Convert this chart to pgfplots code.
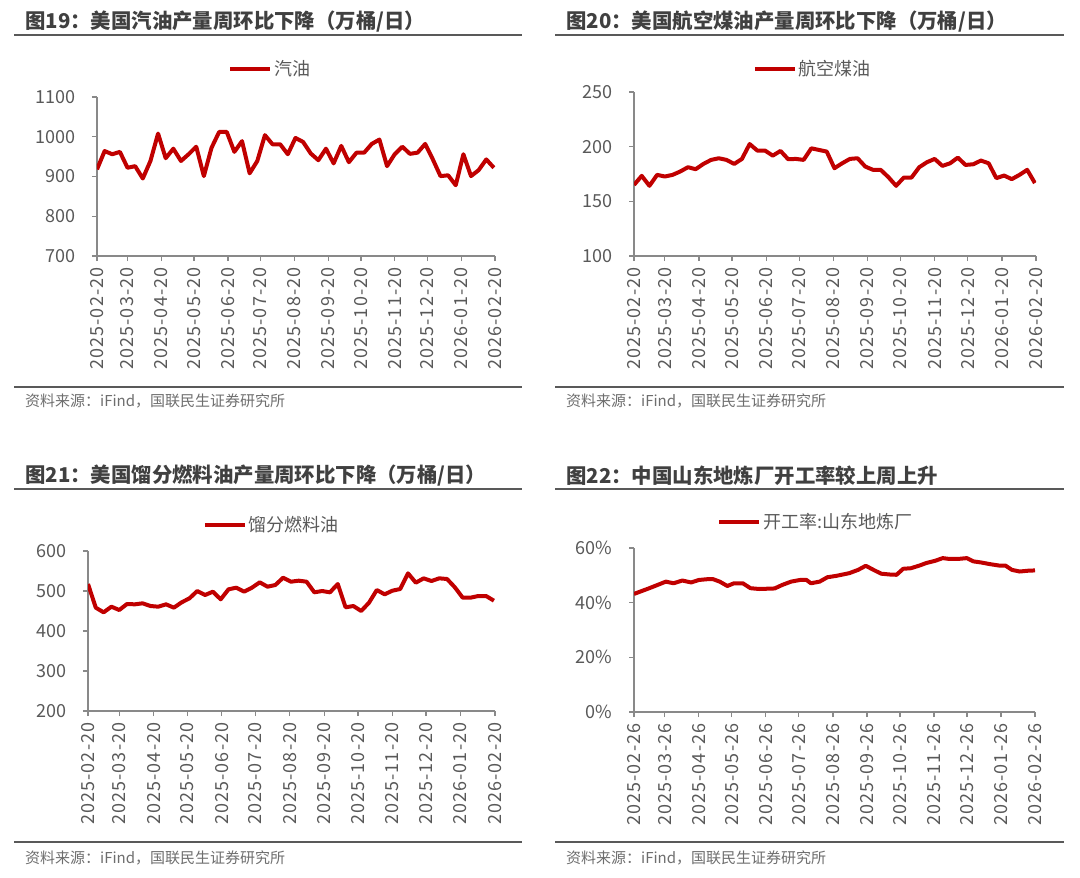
\documentclass[border=0pt]{standalone}
\usepackage{pgfplots}
\pgfplotsset{compat=1.18}
\usepackage{fontspec}
\setmainfont{Noto Sans CJK SC}
\newfontfamily\tickfont[LetterSpace=6]{Noto Sans CJK SC}
\definecolor{myred}{HTML}{C00000}
\definecolor{tit}{HTML}{404040}
\definecolor{tk}{HTML}{595959}
\definecolor{axl}{HTML}{898989}
\definecolor{rule}{HTML}{595959}
\definecolor{src}{HTML}{6E6E6E}

\pgfplotsset{
 legend image code/.code={\draw[#1,line width=4pt] (0pt,0pt) -- (40pt,0pt);},
 panel/.style={
  scale only axis,
  anchor=south west,
  axis lines=left,
  axis line style={-, draw=axl, line width=1.3pt},
  xmin=0, xmax=365,
  xtick={0,28,59,89,120,150,181,212,242,273,303,334,365},
  tick align=outside,
  major tick length=5pt,
  tick style={draw=axl, line width=1.3pt},
  xticklabel shift=3pt,
  x tick label style={rotate=90, anchor=east, font=\tickfont\fontsize{18}{18}\selectfont, text=tk},
  y tick label style={font=\fontsize{18}{18}\selectfont, text=tk, xshift=-13pt},
  /pgf/number format/assume math mode=true,
  /pgf/number format/1000 sep={},
  legend style={draw=none, fill=none, font=\fontsize{18}{20}\selectfont, text=tk, anchor=center, inner sep=0pt, nodes={inner xsep=2pt}},
  legend cell align=left,
 },
 line/.style={myred, line width=4pt, line join=round, mark=none},
}

\begin{document}
\begin{tikzpicture}
\path[use as bounding box] (0pt,0pt) rectangle (1080pt,-878pt);

% ---------- titles and rules ----------
\node[anchor=west, font=\bfseries\fontsize{20.4}{20}\selectfont, text=tit, inner sep=0pt] at (25pt,-22pt) {图19：美国汽油产量周环比下降（万桶/日）};
\node[anchor=west, font=\bfseries\fontsize{20.4}{20}\selectfont, text=tit, inner sep=0pt] at (566pt,-22pt) {图20：美国航空煤油产量周环比下降（万桶/日）};
\node[anchor=west, font=\bfseries\fontsize{20.4}{20}\selectfont, text=tit, inner sep=0pt] at (25pt,-476pt) {图21：美国馏分燃料油产量周环比下降（万桶/日）};
\node[anchor=west, font=\bfseries\fontsize{20.4}{20}\selectfont, text=tit, inner sep=0pt] at (566pt,-476pt) {图22：中国山东地炼厂开工率较上周上升};
\draw[line width=2.5pt, rule] (14pt,-35pt) -- (522pt,-35pt);
\draw[line width=2.5pt, rule] (555pt,-35pt) -- (1064pt,-35pt);
\draw[line width=2.5pt, rule] (14pt,-489pt) -- (522pt,-489pt);
\draw[line width=2.5pt, rule] (555pt,-489pt) -- (1064pt,-489pt);
\draw[line width=2.5pt, rule] (14pt,-387pt) -- (522pt,-387pt);
\draw[line width=2.5pt, rule] (555pt,-387pt) -- (1064pt,-387pt);
\draw[line width=2.5pt, rule] (14pt,-842pt) -- (522pt,-842pt);
\draw[line width=2.5pt, rule] (555pt,-842pt) -- (1064pt,-842pt);
\node[anchor=west, font=\fontsize{15}{15}\selectfont, text=src, inner sep=0pt] at (25pt,-401pt) {资料来源：iFind，国联民生证券研究所};
\node[anchor=west, font=\fontsize{15}{15}\selectfont, text=src, inner sep=0pt] at (566pt,-401pt) {资料来源：iFind，国联民生证券研究所};
\node[anchor=west, font=\fontsize{15}{15}\selectfont, text=src, inner sep=0pt] at (25pt,-858pt) {资料来源：iFind，国联民生证券研究所};
\node[anchor=west, font=\fontsize{15}{15}\selectfont, text=src, inner sep=0pt] at (566pt,-858pt) {资料来源：iFind，国联民生证券研究所};

% ---------- panel 1 ----------
\begin{axis}[panel, at={(97pt,-256pt)}, width=398pt, height=159pt,
  ymin=700, ymax=1100, ytick={700,800,900,1000,1100},
  xticklabels={2025-02-20,2025-03-20,2025-04-20,2025-05-20,2025-06-20,2025-07-20,2025-08-20,2025-09-20,2025-10-20,2025-11-20,2025-12-20,2026-01-20,2026-02-20},
  legend style={at={(0.435,1.176)}}]
\addplot[line] coordinates {
(0,918) (7,964) (14,956) (21,962) (28,922) (35,926) (42,895) (49,939) (56,1008) (63,946) (70,970) (77,939) (84,956) (91,975) (98,901) (105,972) (112,1012) (119,1012) (126,962) (133,989) (140,908) (147,939) (154,1004) (161,981) (168,981) (175,956) (182,997) (189,987) (196,958) (203,941) (210,970) (217,933) (224,977) (231,936) (238,960) (245,960) (252,982) (259,993) (266,926) (273,956) (280,975) (287,957) (294,960) (301,982) (308,943) (315,901) (322,903) (329,878) (336,956) (343,901) (350,916) (357,943) (364,922)
};
\addlegendentry{汽油}
\end{axis}

% ---------- panel 2 ----------
\begin{axis}[panel, at={(634pt,-256pt)}, width=402pt, height=164pt,
  ymin=100, ymax=250, ytick={100,150,200,250},
  xticklabels={2025-02-20,2025-03-20,2025-04-20,2025-05-20,2025-06-20,2025-07-20,2025-08-20,2025-09-20,2025-10-20,2025-11-20,2025-12-20,2026-01-20,2026-02-20},
  legend style={at={(0.445,1.14)}}]
\addplot[line] coordinates {
(0,165) (7,173.3) (14,164.2) (21,174.2) (28,172.7) (35,174.2) (42,177.3) (49,181.2) (56,179.4) (63,184.2) (70,187.9) (77,189.4) (84,187.9) (91,184.2) (98,188.8) (105,202.4) (112,196.4) (119,196.4) (126,191.8) (133,196.1) (140,188.5) (147,188.8) (154,187.9) (161,198.5) (168,197) (175,195.5) (182,180.3) (189,184.8) (196,188.8) (203,189.4) (210,181.8) (217,178.8) (224,178.8) (231,172.1) (238,164.2) (245,171.8) (252,171.8) (259,181.2) (266,185.8) (273,188.8) (280,182.4) (287,184.8) (294,190) (301,183.3) (308,183.9) (315,187.3) (322,184.8) (329,171.2) (336,173.6) (343,170.3) (350,174.2) (357,178.8) (364,166.7)
};
\addlegendentry{航空煤油}
\end{axis}

% ---------- panel 3 ----------
\begin{axis}[panel, at={(88pt,-711pt)}, width=407pt, height=160pt,
  ymin=200, ymax=600, ytick={200,300,400,500,600},
  xticklabels={2025-02-20,2025-03-20,2025-04-20,2025-05-20,2025-06-20,2025-07-20,2025-08-20,2025-09-20,2025-10-20,2025-11-20,2025-12-20,2026-01-20,2026-02-20},
  legend style={at={(0.452,1.1625)}}]
\addplot[line] coordinates {
(0,517.5) (7,458.3) (14,446.7) (21,460.8) (28,452.5) (35,467.5) (42,466.7) (49,469.2) (56,462.5) (63,460.8) (70,466.7) (77,458.3) (84,471.7) (91,481.7) (98,500) (105,490) (112,498.3) (119,479.2) (126,504.2) (133,508.3) (140,498.3) (147,508.3) (154,521.7) (161,510.8) (168,515) (175,533.3) (182,523.3) (189,525.8) (196,523.3) (203,496.7) (210,500) (217,496.7) (224,517.5) (231,459.2) (238,462.5) (245,450) (252,470.8) (259,502.5) (266,491.7) (273,500.8) (280,505) (287,544.2) (294,520.8) (301,531.7) (308,525) (315,531.7) (322,530) (329,509.2) (336,483.3) (343,483.3) (350,487.5) (357,487.5) (364,475.8)
};
\addlegendentry{馏分燃料油}
\end{axis}

% ---------- panel 4 ----------
\begin{axis}[panel, at={(634pt,-712pt)}, width=401pt, height=164pt,
  ymin=0, ymax=60, ytick={0,20,40,60},
  yticklabel={\pgfmathprintnumber{\tick}\%},
  xticklabels={2025-02-26,2025-03-26,2025-04-26,2025-05-26,2025-06-26,2025-07-26,2025-08-26,2025-09-26,2025-10-26,2025-11-26,2025-12-26,2026-01-26,2026-02-26},
  legend style={at={(0.453,1.159)}}]
\addplot[line] coordinates {
(0,43.2) (14,45.3) (29,47.7) (36,47.1) (44,48.1) (52,47.4) (59,48.3) (67,48.6) (72,48.6) (78,47.7) (85,46.1) (91,47.1) (99,47.1) (106,45.3) (114,45.0) (128,45.2) (135,46.5) (143,47.7) (151,48.3) (157,48.3) (161,47.1) (169,47.7) (176,49.3) (184,49.8) (196,50.8) (204,52.0) (211,53.5) (218,52.0) (225,50.6) (233,50.3) (239,50.2) (245,52.4) (252,52.6) (260,53.6) (266,54.5) (274,55.3) (281,56.3) (287,56.0) (295,56.0) (303,56.3) (309,55.1) (316,54.7) (324,54.1) (332,53.6) (338,53.6) (344,52.0) (351,51.4) (359,51.7) (365,51.8)
};
\addlegendentry{开工率:山东地炼厂}
\end{axis}
\end{tikzpicture}
\end{document}
